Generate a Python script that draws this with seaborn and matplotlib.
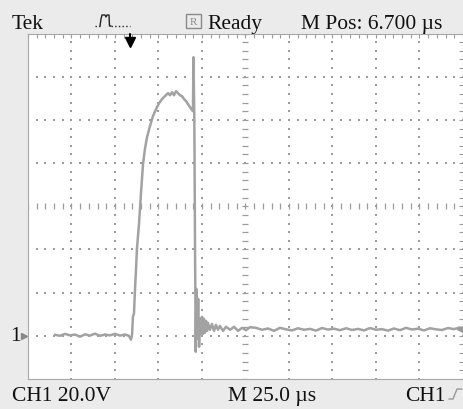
import numpy as np
import matplotlib.pyplot as plt
import seaborn as sns

# CH1 trace: time in us from the left edge, volts above the CH1 ground
t_us = [15.5, 18.4, 21.3, 24.1, 27.0, 29.9, 32.8, 35.6, 38.5, 41.4, 44.3, 47.1, 50.0, 52.9, 55.7, 58.0,
        59.2, 59.8, 60.3, 60.9, 61.5, 62.1, 62.6, 63.8, 64.9, 66.1, 67.2, 68.4, 70.1, 71.8, 73.6, 75.3,
        77.0, 78.7, 80.5, 81.6, 82.8, 83.9, 85.1, 86.2, 87.4, 88.5, 89.7, 90.8, 92.0, 93.1, 94.3, 94.8,
        95.1, 95.6, 96.0, 96.4, 96.8, 97.3, 97.8, 98.3, 98.9, 99.4, 100.0, 100.6, 101.1, 101.7, 102.3,
        102.9, 103.4, 104.6, 105.7, 106.9, 108.0, 109.2, 110.3, 112.1, 113.8, 116.1, 118.4, 120.7, 123.0,
        125.3, 127.6, 131.0, 134.5, 137.9, 141.4, 144.8, 148.3, 151.7, 155.2, 158.6, 162.1, 165.5, 169.0,
        172.4, 175.9, 179.3, 182.8, 186.2, 189.7, 193.1, 196.6, 200.0, 203.4, 206.9, 210.3, 213.8, 217.2,
        220.7, 224.1, 227.6, 231.0, 234.5, 237.9, 241.4, 244.8, 248.3]
volts = [0.5, 0.0, 0.9, 0.2, 0.6, -0.4, 0.7, 0.1, 1.0, 0.0, 0.6, 0.2, 0.9, 0.1, 0.6, 0.0,
         -1.8, 0.5, 8.8, 10.2, 21.7, 31.0, 40.2, 51.8, 65.7, 79.5, 86.5, 92.0, 97.1, 101.7, 105.0, 107.7,
         109.6, 111.0, 112.4, 111.4, 112.8, 111.4, 113.3, 112.4, 111.4, 111.0, 109.6, 108.7, 107.3, 105.9, 104.5, 104.0,
         129.0, 100.0, 40.0, -7.4, 21.7, -1.4, 17.1, -5.1, 7.9, 0.9, 8.8, 0.9, 7.9, 1.4, 6.9,
         2.3, 6.0, 2.8, 5.5, 2.3, 5.1, 2.8, 4.6, 2.3, 4.2, 2.8, 4.2, 2.3, 3.7,
         2.6, 4.0, 3.7, 2.8, 3.4, 2.3, 3.7, 3.0, 2.5, 3.5, 2.8, 3.2, 2.4, 3.6,
         2.9, 3.3, 2.6, 3.5, 2.7, 3.2, 2.5, 3.6, 2.8, 3.1, 2.4, 3.4, 2.6, 3.7,
         2.9, 3.3, 2.5, 3.5, 3.0, 2.7, 3.6, 3.1, 3.9]

# screen settings
t_div = 25.0     # us/div
v_div = 20.0     # V/div
ground_div = -3  # CH1 ground marker, divisions from centre

sns.set_style("white")
plt.rcParams['font.family'] = ['Liberation Serif', 'DejaVu Serif']

W, H = 464, 410
fig = plt.figure(figsize=(W / 100, H / 100), dpi=100, facecolor='#ebebeb')

#plot area in pixels -> figure fractions
x0, x1, y0, y1 = 28, 463, 34.5, 380
ax = fig.add_axes([x0 / W, 1 - y1 / H, (x1 - x0) / W, (y1 - y0) / H])
ax.set_facecolor('white')
vmin = (-4 - ground_div) * v_div
vmax = (4 - ground_div) * v_div
ax.set_xlim(0, 10 * t_div)
ax.set_ylim(vmin, vmax)

grid_c = '#9c9c9c'
#dotted graticule lines, a dot every minor division
xminor = np.arange(0, 10 * t_div + 0.1, t_div / 5)
yminor = np.arange(vmin, vmax + 0.1, v_div / 5)
xc = 5 * t_div
yc = vmin + 4 * v_div
for k in range(1, 10):
    xv = k * t_div
    if k == 5:
        continue
    ax.scatter(np.full(len(yminor), xv), yminor, s=1.2, marker='s', color=grid_c, linewidths=0, zorder=1)
for k in range(1, 8):
    yv = vmin + k * v_div
    if k == 4:
        continue
    ax.scatter(xminor, np.full(len(xminor), yv), s=1.2, marker='s', color=grid_c, linewidths=0, zorder=1)
#centre cross with small tick marks
ax.plot(xminor, np.full(len(xminor), yc), ls='none', marker='|', ms=4, mew=0.9, color=grid_c, zorder=1)
ax.plot(np.full(len(yminor), xc), yminor, ls='none', marker='_', ms=5, mew=0.9, color=grid_c, zorder=1)

#inward ticks on the frame
ax.set_xticks(xminor)
ax.set_yticks(yminor)
ax.tick_params(which='both', direction='in', length=3, width=0.8, color=grid_c,
               top=True, right=True, labelbottom=False, labelleft=False)
for s in ax.spines.values():
    s.set_color('#a8a8a8')
    s.set_linewidth(0.8)

# the trace
sns.lineplot(x=t_us, y=volts, estimator=None, sort=False, color='#a2a2a2', linewidth=1.8, ax=ax, zorder=3)

# overlay in pixel coordinates for the readouts
ov = fig.add_axes([0, 0, 1, 1], zorder=5)
ov.set_xlim(0, W)
ov.set_ylim(H, 0)
ov.axis('off')
ov.patch.set_alpha(0)

fs = 15.5
ov.text(12, 29, 'Tek', fontsize=fs, va='baseline', color='#111111')
ov.text(207, 29, 'Ready', fontsize=fs, va='baseline', color='#111111')
ov.text(301, 29, 'M Pos: 6.700 \u00b5s', fontsize=fs, va='baseline', color='#111111')
ov.text(12, 401, 'CH1 20.0V', fontsize=fs, va='baseline', color='#111111')
ov.text(228, 401, 'M 25.0 \u00b5s', fontsize=fs, va='baseline', color='#111111')
ov.text(405, 401, 'CH1', fontsize=fs, va='baseline', color='#111111')

# R box
ov.add_patch(plt.Rectangle((186, 15), 15, 14, fill=False, ec='#8a8a8a', lw=1.0))
ov.text(193.5, 22.5, 'R', fontsize=8, ha='center', va='center', color='#8a8a8a')

# acquisition icon
ov.plot([95, 100], [27, 27], ls=':', color='#222222', lw=1)
ov.plot([100, 101, 102, 105, 106, 107, 109, 109.5, 111], [27, 20, 16, 16, 18, 16, 16, 27, 27], color='#222222', lw=1)
ov.plot([111, 130], [27, 27], ls=':', color='#222222', lw=1)

# rising edge trigger icon
ov.plot([449, 453, 457, 462], [400, 400, 390, 390], color='#999999', lw=1)

# trigger position arrow
ov.plot([130, 130], [35, 41], color='black', lw=1.5)
ov.plot([130], [43], marker='v', ms=7, color='black')

# ground marker
ov.text(10, 337, '1', fontsize=fs, va='center', color='#111111')
ov.plot([24], [337], marker='>', ms=4, color='#888888')
# trigger level marker
ov.plot([460.5], [330], marker='<', ms=4, color='#999999')

fig.savefig('out.png', dpi=100, facecolor=fig.get_facecolor())
